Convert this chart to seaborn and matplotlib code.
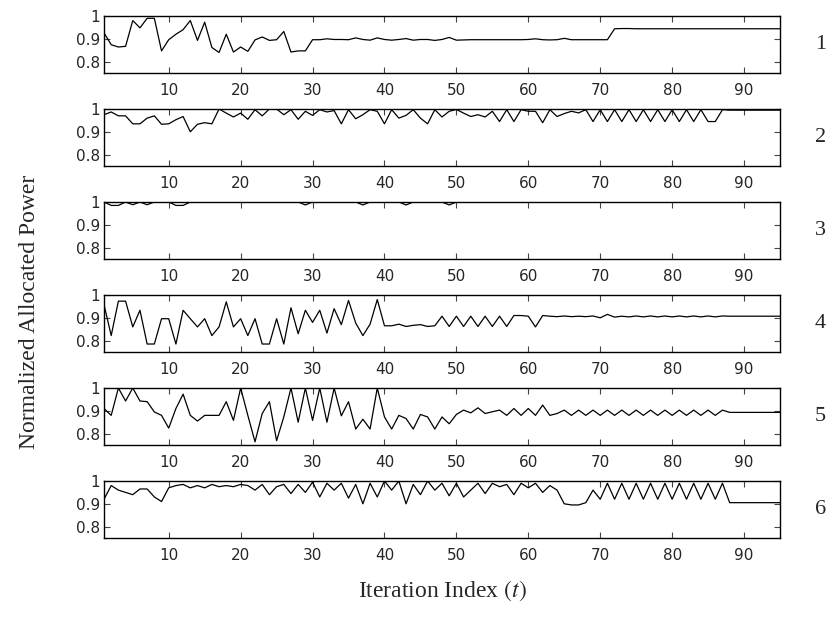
import matplotlib
matplotlib.use("Agg")
import matplotlib.pyplot as plt
import pandas as pd
import seaborn as sns

# iteration index shared by all six users
iterations = list(range(1, 96))

power_1 = [0.926, 0.874, 0.864, 0.867, 0.980, 0.948, 0.990, 0.990, 0.847, 0.896,
           0.920, 0.940, 0.980, 0.893, 0.973, 0.862, 0.840, 0.920, 0.842, 0.864,
           0.845, 0.895, 0.908, 0.893, 0.896, 0.932, 0.842, 0.847, 0.847, 0.896,
           0.896, 0.900, 0.897, 0.897, 0.896, 0.904, 0.897, 0.894, 0.904, 0.897,
           0.894, 0.897, 0.901, 0.894, 0.897, 0.897, 0.893, 0.897, 0.906, 0.894,
           0.895, 0.896, 0.896, 0.896, 0.896, 0.896, 0.896, 0.896, 0.896, 0.897,
           0.900, 0.896, 0.895, 0.896, 0.902, 0.896, 0.896, 0.896, 0.896, 0.896,
           0.896, 0.944, 0.945, 0.945, 0.944, 0.944, 0.944, 0.944, 0.944, 0.944,
           0.944, 0.944, 0.944, 0.944, 0.944, 0.944, 0.944, 0.944, 0.944, 0.944,
           0.944, 0.944, 0.944, 0.944, 0.944]

power_2 = [0.975, 0.987, 0.970, 0.970, 0.935, 0.935, 0.960, 0.970, 0.933, 0.935,
           0.953, 0.967, 0.900, 0.933, 0.940, 0.935, 1.000, 0.982, 0.965, 0.982,
           0.955, 0.997, 0.970, 1.000, 1.000, 0.975, 0.997, 0.955, 0.990, 0.972,
           0.997, 0.987, 0.993, 0.935, 0.997, 0.957, 0.975, 0.997, 0.990, 0.935,
           0.997, 0.960, 0.972, 0.997, 0.960, 0.935, 0.997, 0.965, 0.990, 0.998,
           0.982, 0.967, 0.975, 0.965, 0.990, 0.945, 0.997, 0.945, 0.997, 0.990,
           0.990, 0.940, 0.997, 0.967, 0.980, 0.990, 0.983, 0.997, 0.945, 0.997,
           0.945, 0.997, 0.945, 0.997, 0.945, 0.997, 0.945, 0.997, 0.945, 0.997,
           0.945, 0.997, 0.945, 0.997, 0.945, 0.945, 0.997, 0.995, 0.995, 0.995,
           0.995, 0.995, 0.995, 0.995, 0.995]

power_3 = [1.000, 0.985, 0.985, 1.000, 0.988, 1.000, 0.988, 1.000, 1.000, 1.000,
           0.985, 0.985, 1.000, 1.000, 1.000, 1.000, 1.000, 1.000, 1.000, 1.000,
           1.000, 1.000, 1.000, 1.000, 1.000, 1.000, 1.000, 1.000, 0.987, 1.000,
           1.000, 1.000, 1.000, 1.000, 1.000, 1.000, 0.987, 1.000, 1.000, 1.000,
           1.000, 1.000, 0.987, 1.000, 1.000, 1.000, 1.000, 1.000, 0.987, 1.000,
           1.000, 1.000, 1.000, 1.000, 1.000, 1.000, 1.000, 1.000, 1.000, 1.000,
           1.000, 1.000, 1.000, 1.000, 1.000, 1.000, 1.000, 1.000, 1.000, 1.000,
           1.000, 1.000, 1.000, 1.000, 1.000, 1.000, 1.000, 1.000, 1.000, 1.000,
           1.000, 1.000, 1.000, 1.000, 1.000, 1.000, 1.000, 1.000, 1.000, 1.000,
           1.000, 1.000, 1.000, 1.000, 1.000]

power_4 = [0.958, 0.822, 0.973, 0.973, 0.860, 0.933, 0.785, 0.785, 0.896, 0.896,
           0.785, 0.933, 0.896, 0.860, 0.896, 0.822, 0.860, 0.970, 0.860, 0.896,
           0.822, 0.896, 0.785, 0.785, 0.896, 0.785, 0.944, 0.830, 0.933, 0.880,
           0.933, 0.833, 0.940, 0.870, 0.976, 0.877, 0.822, 0.872, 0.980, 0.865,
           0.865, 0.872, 0.862, 0.867, 0.870, 0.862, 0.865, 0.907, 0.862, 0.907,
           0.862, 0.907, 0.862, 0.907, 0.862, 0.907, 0.862, 0.910, 0.910, 0.907,
           0.860, 0.910, 0.907, 0.905, 0.908, 0.905, 0.907, 0.905, 0.908, 0.900,
           0.915, 0.903, 0.907, 0.904, 0.908, 0.904, 0.908, 0.904, 0.908, 0.904,
           0.908, 0.904, 0.908, 0.904, 0.908, 0.904, 0.908, 0.907, 0.907, 0.907,
           0.907, 0.907, 0.907, 0.907, 0.907]

power_5 = [0.910, 0.880, 1.000, 0.943, 1.000, 0.943, 0.940, 0.895, 0.880, 0.824,
           0.910, 0.973, 0.880, 0.855, 0.880, 0.880, 0.880, 0.940, 0.858, 1.000,
           0.880, 0.764, 0.888, 0.940, 0.769, 0.873, 1.000, 0.850, 1.000, 0.858,
           1.000, 0.850, 1.000, 0.878, 0.940, 0.820, 0.863, 0.820, 1.000, 0.873,
           0.820, 0.880, 0.866, 0.820, 0.884, 0.873, 0.820, 0.873, 0.843, 0.884,
           0.903, 0.891, 0.913, 0.888, 0.896, 0.903, 0.880, 0.910, 0.880, 0.910,
           0.880, 0.925, 0.880, 0.888, 0.903, 0.880, 0.903, 0.880, 0.903, 0.880,
           0.903, 0.880, 0.903, 0.880, 0.903, 0.880, 0.903, 0.880, 0.903, 0.880,
           0.903, 0.880, 0.903, 0.880, 0.903, 0.880, 0.903, 0.893, 0.893, 0.893,
           0.893, 0.893, 0.893, 0.893, 0.893]

power_6 = [0.920, 0.980, 0.960, 0.950, 0.940, 0.965, 0.965, 0.930, 0.910, 0.970,
           0.980, 0.985, 0.970, 0.980, 0.970, 0.985, 0.975, 0.980, 0.975, 0.985,
           0.980, 0.960, 0.985, 0.940, 0.975, 0.985, 0.945, 0.985, 0.950, 0.995,
           0.930, 0.990, 0.960, 0.990, 0.925, 0.985, 0.900, 0.990, 0.930, 1.000,
           0.960, 1.000, 0.900, 0.985, 0.940, 1.000, 0.960, 0.990, 0.935, 0.990,
           0.930, 0.960, 0.990, 0.945, 0.990, 0.975, 0.985, 0.940, 0.990, 0.970,
           0.990, 0.950, 0.980, 0.960, 0.900, 0.895, 0.895, 0.905, 0.960, 0.920,
           0.990, 0.920, 0.990, 0.920, 0.990, 0.920, 0.990, 0.920, 0.990, 0.920,
           0.990, 0.920, 0.990, 0.920, 0.990, 0.920, 0.990, 0.905, 0.905, 0.905,
           0.905, 0.905, 0.905, 0.905, 0.905]

users = ["1", "2", "3", "4", "5", "6"]
series = [power_1, power_2, power_3, power_4, power_5, power_6]

x_ticks = [10, 20, 30, 40, 50, 60, 70, 80, 90]
y_ticks = [0.8, 0.9, 1.0]
y_tick_labels = ["0.8", "0.9", "1"]

sns.set_style("ticks")
plt.rcParams["font.family"] = ["DejaVu Sans"]
plt.rcParams["mathtext.fontset"] = "stix"

fig = plt.figure(figsize=(8.35, 6.23), dpi=100)

W, H = 835, 623
left_px, right_px = 104, 780
top0, step, height = 16, 93, 57

for i, (user, values) in enumerate(zip(users, series)):
    top = top0 + step * i
    ax = fig.add_axes([left_px / W, 1 - (top + height) / H,
                       (right_px - left_px) / W, height / H])
    df = pd.DataFrame({"t": iterations, "p": values})
    sns.lineplot(data=df, x="t", y="p", ax=ax, color="black", linewidth=0.9)
    ax.set_xlim(1, 95)
    ax.set_ylim(0.75, 1.0)
    ax.set_xticks(x_ticks)
    ax.set_yticks(y_ticks)
    ax.set_yticklabels(y_tick_labels)
    ax.set_xlabel("")
    ax.set_ylabel("")
    ax.tick_params(direction="in", top=True, right=True, length=4,
                   width=0.8, labelsize=11, pad=3, color="#444444")
    ax.tick_params(axis="x", pad=7)
    for sp in ax.spines.values():
        sp.set_linewidth(1.0)
        sp.set_color("black")
    ax.text(1.06, 0.5, user, transform=ax.transAxes, fontsize=16,
            family="Liberation Serif", ha="center", va="center")

fig.text(0.035, 0.5, "Normalized Allocated Power", rotation=90,
         fontsize=17, family="Liberation Serif", ha="center", va="center")
fig.text(0.53, 0.052, "Iteration Index $(t)$", fontsize=17,
         family="Liberation Serif", ha="center", va="center")

fig.savefig("out.png", dpi=100)
